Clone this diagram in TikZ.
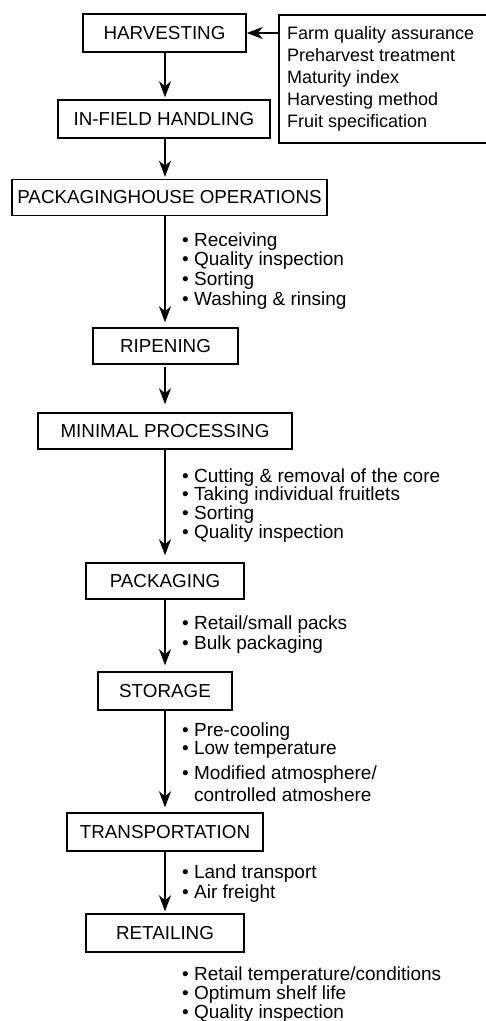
\documentclass[tikz,border=0pt]{standalone}
\usepackage{fontspec}
\setmainfont{Liberation Sans}
\usetikzlibrary{arrows.meta}
\begin{document}
\begin{tikzpicture}[x=1pt,y=-1pt,
  box/.style={draw, line width=1.5pt, inner sep=0pt, font=\fontsize{18.8}{20}\selectfont},
  flow/.style={line width=1.5pt, -{Stealth[length=16pt,width=12pt,inset=5pt]}},
  lst/.style={anchor=base west, align=left, inner sep=0pt, font=\fontsize{19}{19.6}\selectfont},
]
\useasboundingbox (0,0) rectangle (486,1021);
\coordinate (ax) at (165,0);
% boxes
\node[box, minimum width=163pt, minimum height=38pt] (harv) at (164.5,33) {HARVESTING};
\node[box, minimum width=212pt, minimum height=38pt] (infield) at (164,119) {IN-FIELD HANDLING};
\node[box, minimum width=315pt, minimum height=36pt] (pho) at (169.5,197.5) {PACKAGINGHOUSE OPERATIONS};
\node[box, minimum width=145pt, minimum height=36pt] (rip) at (165.5,346) {RIPENING};
\node[box, minimum width=254pt, minimum height=36pt] (minp) at (165,431) {MINIMAL PROCESSING};
\node[box, minimum width=158pt, minimum height=36pt] (pack) at (165,581) {PACKAGING};
\node[box, minimum width=134pt, minimum height=38pt] (stor) at (165,691) {STORAGE};
\node[box, minimum width=196pt, minimum height=38pt] (trans) at (165,832) {TRANSPORTATION};
\node[box, minimum width=158pt, minimum height=38pt] (ret) at (165,933) {RETAILING};
% factors box (right edge beyond the page)
\node[draw, line width=1.5pt, minimum width=214pt, minimum height=128pt, anchor=north west, inner sep=0pt] (factors) at (278,14) {};
\node[anchor=base west, align=left, inner sep=0pt, font=\fontsize{18}{22.2}\selectfont] (factxt) at (287,127.8)
  {Farm quality assurance\\Preharvest treatment\\Maturity index\\Harvesting method\\Fruit specification};
% arrows
\draw[flow] (factors.west |- harv.east) -- (harv.east);
\draw[flow, shorten >=2pt] (harv.south -| ax) -- (infield.north -| ax);
\draw[flow, shorten >=2pt] (infield.south -| ax) -- (pho.north -| ax);
\draw[flow, shorten >=5pt] (pho.south -| ax) -- (rip.north -| ax);
\draw[flow, shorten <=2pt, shorten >=8pt] (rip.south -| ax) -- (minp.north -| ax);
\draw[flow, shorten >=7pt] (minp.south -| ax) -- (pack.north -| ax);
\draw[flow, shorten >=6pt] (pack.south -| ax) -- (stor.north -| ax);
\draw[flow, shorten >=5pt] (stor.south -| ax) -- (trans.north -| ax);
\draw[flow, shorten >=2pt] (trans.south -| ax) -- (ret.north -| ax);
% lists (anchored at the baseline of their last line)
\node[lst, font=\fontsize{19}{19.7}\selectfont] (l1) at (182,305.1)
  {\textbullet\ Receiving\\\textbullet\ Quality inspection\\\textbullet\ Sorting\\\textbullet\ Washing \& rinsing};
\node[lst, font=\fontsize{19}{18.7}\selectfont] (l2) at (182,538.1)
  {\textbullet\ Cutting \& removal of the core\\\textbullet\ Taking individual fruitlets\\\textbullet\ Sorting\\\textbullet\ Quality inspection};
\node[lst, font=\fontsize{19}{20}\selectfont] (l3) at (182,649)
  {\textbullet\ Retail/small packs\\\textbullet\ Bulk packaging};
\node[lst, font=\fontsize{19}{18}\selectfont] (l4) at (182,801)
  {\textbullet\ Pre-cooling\\\textbullet\ Low temperature\\[7pt]\textbullet\ Modified atmosphere/\\[4pt]\phantom{\textbullet\ }controlled atmoshere};
\node[lst, font=\fontsize{19}{20}\selectfont] (l5) at (182,898)
  {\textbullet\ Land transport\\\textbullet\ Air freight};
\node[lst, font=\fontsize{19}{19}\selectfont] (l6) at (182,1018)
  {\textbullet\ Retail temperature/conditions\\\textbullet\ Optimum shelf life\\\textbullet\ Quality inspection};
\end{tikzpicture}
\end{document}
